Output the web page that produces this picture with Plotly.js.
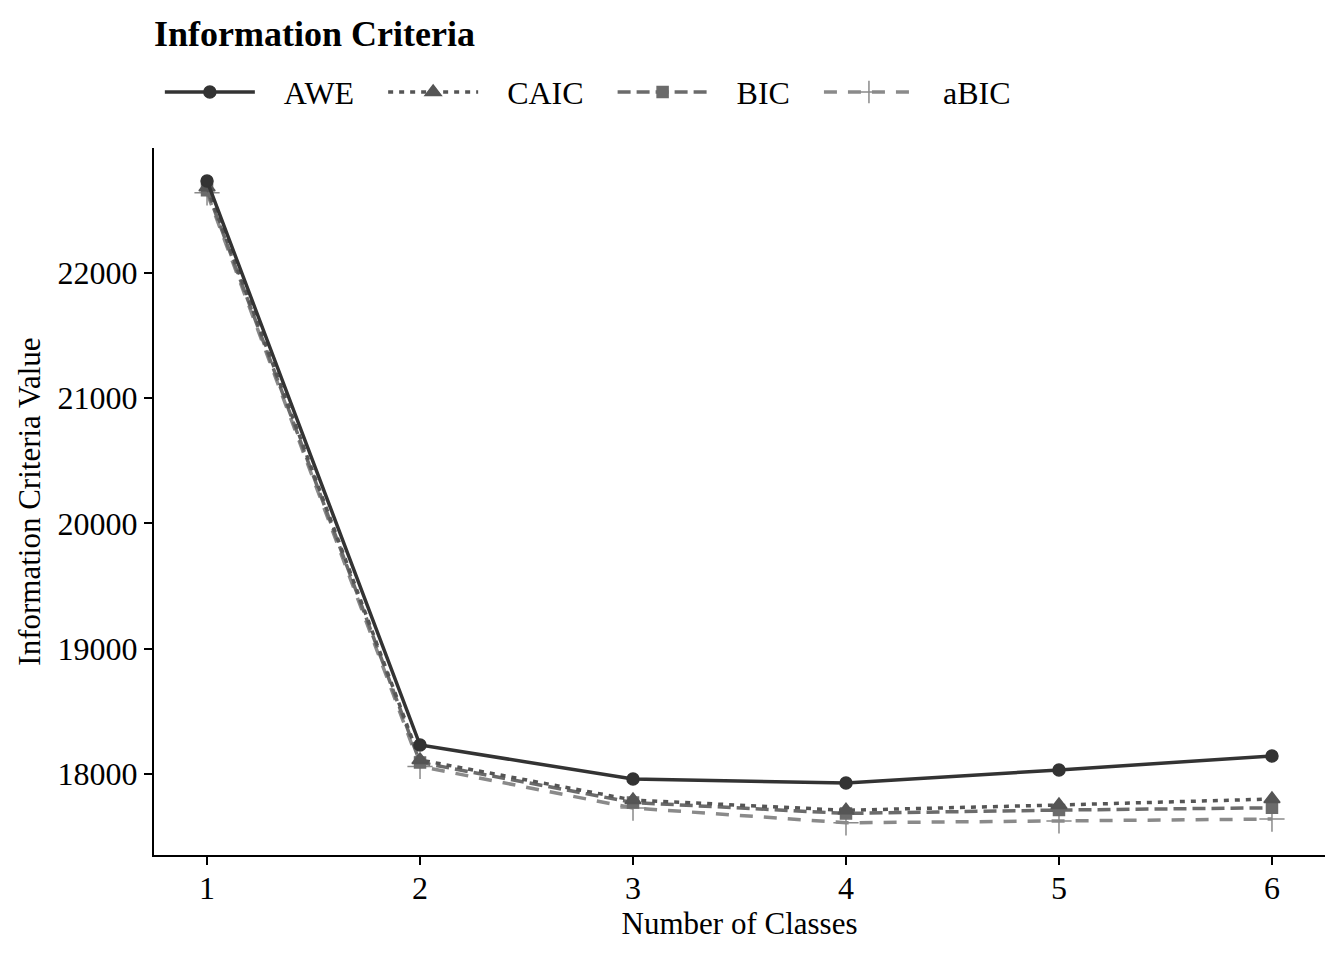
<!DOCTYPE html>
<html>
<head>
<meta charset="utf-8">
<script src="https://cdn.plot.ly/plotly-3.0.1.min.js"></script>
<style>html,body{margin:0;padding:0;background:#fff;}#chart{width:1344px;height:960px;}</style>
</head>
<body>
<div id="chart"></div>
<script>
var classes = [1, 2, 3, 4, 5, 6];
var awe  = [22735, 18231, 17960, 17928, 18032, 18144];
var caic = [22685, 18112, 17792, 17710, 17752, 17800];
var bic  = [22660, 18092, 17772, 17685, 17712, 17730];
var abic = [22640, 18060, 17728, 17610, 17625, 17640];
var seriesNames = ['AWE', 'CAIC', 'BIC', 'aBIC'];
var yTicks = [18000, 19000, 20000, 21000, 22000];

var F = 'Liberation Serif, Times New Roman, serif';
var pad = '\u00A0\u00A0\u00A0';
var trail = '\u00A0\u00A0\u00A0';
var styles = [
  {color: '#333333', dash: 'solid', symbol: 'circle', size: 12},
  {color: '#555555', dash: '5px,6px', symbol: 'triangle-up', size: 14},
  {color: '#6b6b6b', dash: '13px,6px', symbol: 'square', size: 11},
  {color: '#8a8a8a', dash: '13px,11px', symbol: 'cross-thin-open', size: 18}
];
var vals = [awe, caic, bic, abic];
var traces = vals.map(function (v, i) {
  var s = styles[i];
  return {
    x: classes, y: v, name: pad + seriesNames[i] + trail, type: 'scatter', mode: 'lines+markers',
    line: {color: s.color, width: 3.5, dash: s.dash},
    marker: {color: s.color, symbol: s.symbol, size: s.size, line: {color: s.color, width: 1.5}}
  };
});
traces.reverse();

var layout = {
  width: 1344, height: 960,
  paper_bgcolor: '#fff', plot_bgcolor: '#fff',
  margin: {l: 154, r: 19, t: 148, b: 105},
  font: {family: F, color: '#000', size: 32},
  title: {text: '<b>Information Criteria</b>', font: {family: F, size: 36, color: '#000'},
          xref: 'paper', x: 0, xanchor: 'left', yref: 'container', y: 0.965, yanchor: 'middle'},
  showlegend: true,
  legend: {orientation: 'h', x: 0.005, xanchor: 'left', yref: 'container', y: 0.904, yanchor: 'middle',
           traceorder: 'reversed', itemwidth: 90,
           font: {family: F, size: 32, color: '#000'}, bgcolor: 'rgba(0,0,0,0)'},
  xaxis: {range: [0.751, 6.249], tickvals: classes, ticktext: classes.map(String),
          showgrid: false, zeroline: false, showline: true, linecolor: '#000', linewidth: 2,
          ticks: 'outside', ticklen: 8, tickwidth: 1.5, tickcolor: '#000', ticklabelstandoff: -4,
          tickfont: {family: F, size: 32, color: '#000'},
          title: {text: 'Number of Classes', font: {family: F, size: 31, color: '#000'}, standoff: 6}},
  yaxis: {range: [17353, 22998], tickvals: yTicks, ticktext: yTicks.map(String),
          showgrid: false, zeroline: false, showline: true, linecolor: '#000', linewidth: 2,
          ticks: 'outside', ticklen: 8, tickwidth: 1.5, tickcolor: '#000',
          tickfont: {family: F, size: 32, color: '#000'},
          title: {text: 'Information Criteria Value', font: {family: F, size: 31, color: '#000'}, standoff: 8}}
};
Plotly.newPlot('chart', traces, layout, {displayModeBar: false});
</script>
</body>
</html>
